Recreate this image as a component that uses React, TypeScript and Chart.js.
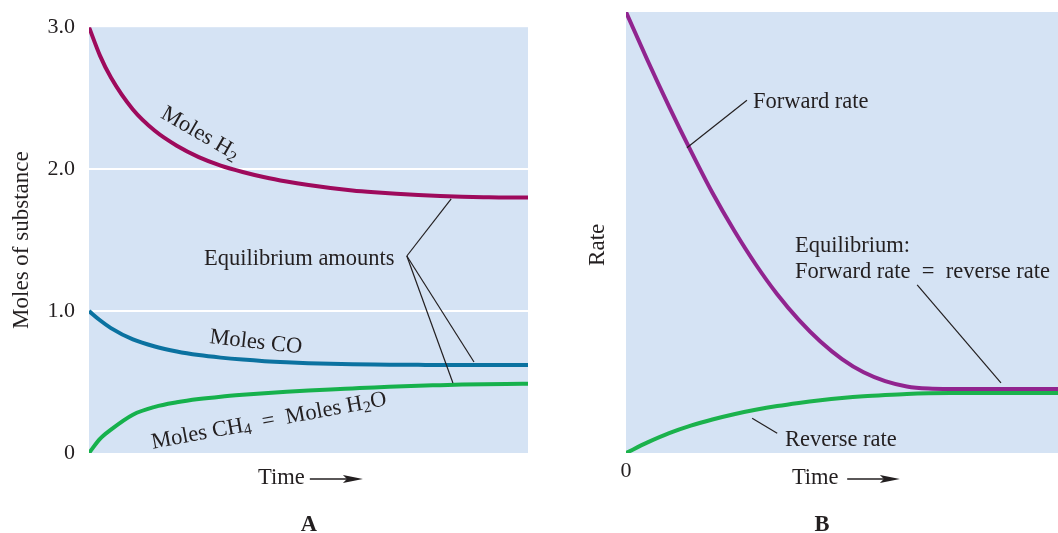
import React, { useEffect, useRef } from 'react';
import { Chart, registerables } from 'chart.js';

Chart.register(...registerables);

const FONT = "'Liberation Serif', 'Times New Roman', Times, serif";
const INK = '#231f20';
const PLOT_BG = '#d5e3f4';

// ---------- Panel A data ----------
const timeA = [0, 2.5, 5, 10, 15, 20, 25, 30, 35, 40, 45, 50, 55, 60, 65, 70, 75, 80, 85, 90, 95, 100];
const molesH2 = [3.0, 2.8, 2.645, 2.42, 2.27, 2.165, 2.085, 2.025, 1.98, 1.943, 1.913, 1.888, 1.867, 1.85, 1.837, 1.826, 1.817, 1.81, 1.805, 1.802, 1.8, 1.8];
const molesCO = [1.0, 0.935, 0.88, 0.8, 0.75, 0.715, 0.69, 0.672, 0.658, 0.647, 0.639, 0.633, 0.628, 0.625, 0.623, 0.622, 0.621, 0.62, 0.62, 0.62, 0.62, 0.62];
const molesCH4 = [0, 0.1, 0.165, 0.27, 0.325, 0.357, 0.38, 0.397, 0.41, 0.421, 0.431, 0.44, 0.448, 0.455, 0.462, 0.468, 0.474, 0.478, 0.482, 0.485, 0.487, 0.488];
const yTicksA = [0, 1, 2, 3];
const yTickLabelsA = ['0', '1.0', '2.0', '3.0'];

// ---------- Panel B data ----------
const timeB = [0, 5, 10, 15, 20, 25, 30, 35, 40, 45, 50, 55, 60, 65, 70, 75, 80, 90, 100];
const forwardRate = [100, 89, 78.5, 68.5, 59, 50.5, 42.8, 36, 30.2, 25.3, 21.3, 18.3, 16.3, 15.1, 14.6, 14.5, 14.5, 14.5, 14.5];
const reverseRate = [0, 2.4, 4.5, 6.2, 7.6, 8.8, 9.8, 10.65, 11.35, 11.95, 12.45, 12.85, 13.15, 13.4, 13.55, 13.6, 13.6, 13.6, 13.6];
const xTicksB = [0];
const xTickLabelsB = ['0'];

type Seg = { t: string; sub?: boolean };
type TextAnn = {
  x: number; y: number; segs: Seg[]; angle?: number;
  align?: 'left' | 'center'; bold?: boolean; baseline?: CanvasTextBaseline; size?: number;
};
type LineAnn = { x1: number; y1: number; x2: number; y2: number };
type ArrowAnn = { x1: number; x2: number; y: number };

// Annotation anchors in data coordinates (time, value)
const textsA: TextAnn[] = [
  { x: 25.3, y: 2.25, segs: [{ t: 'Moles H' }, { t: '2', sub: true }], angle: 30, align: 'center', baseline: 'middle' },
  { x: 38.0, y: 0.78, segs: [{ t: 'Moles CO' }], angle: 6.5, align: 'center', baseline: 'middle' },
  { x: 41.0, y: 0.225, segs: [{ t: 'Moles CH' }, { t: '4', sub: true }, { t: '\u2002=\u2002Moles H' }, { t: '2', sub: true }, { t: 'O' }], angle: -10.5, align: 'center', baseline: 'middle' },
  { x: 26.2, y: 1.325, segs: [{ t: 'Equilibrium amounts' }] },
  { x: 38.5, y: -0.218, segs: [{ t: 'Time' }] },
  { x: 50.1, y: -0.55, segs: [{ t: 'A' }], align: 'center', bold: true },
];
const linesA: LineAnn[] = [
  { x1: 72.4, y1: 1.388, x2: 82.5, y2: 1.79 },
  { x1: 72.4, y1: 1.388, x2: 87.7, y2: 0.641 },
  { x1: 72.4, y1: 1.388, x2: 82.9, y2: 0.493 },
];
const arrowsA: ArrowAnn[] = [{ x1: 50.3, x2: 62.4, y: -0.183 }];

const textsB: TextAnn[] = [
  { x: -6.5, y: 47.2, segs: [{ t: 'Rate' }], angle: -90, align: 'center', baseline: 'middle', size: 23 },
  { x: 29.4, y: 78.2, segs: [{ t: 'Forward rate' }] },
  { x: 39.1, y: 45.6, segs: [{ t: 'Equilibrium:' }] },
  { x: 39.1, y: 39.7, segs: [{ t: 'Forward rate\u2002=\u2002reverse rate' }] },
  { x: 36.8, y: 1.6, segs: [{ t: 'Reverse rate' }] },
  { x: 38.4, y: -7.0, segs: [{ t: 'Time' }] },
  { x: 45.4, y: -17.7, segs: [{ t: 'B' }], align: 'center', bold: true },
];
const linesB: LineAnn[] = [
  { x1: 14.1, y1: 69.2, x2: 28.0, y2: 80.0 },
  { x1: 67.4, y1: 38.1, x2: 86.8, y2: 15.9 },
  { x1: 29.2, y1: 7.9, x2: 35.0, y2: 4.5 },
];
const arrowsB: ArrowAnn[] = [{ x1: 51.2, x2: 63.4, y: -5.9 }];

function drawRich(ctx: CanvasRenderingContext2D, a: TextAnn, px: number, py: number) {
  const size = a.size ?? 22.5;
  const fontOf = (s: Seg) => `${a.bold ? 'bold ' : ''}${s.sub ? size * 0.72 : size}px ${FONT}`;
  const widths = a.segs.map((s) => { ctx.font = fontOf(s); return ctx.measureText(s.t).width; });
  const total = widths.reduce((p, c) => p + c, 0);
  ctx.save();
  ctx.translate(px, py);
  ctx.rotate(((a.angle ?? 0) * Math.PI) / 180);
  ctx.fillStyle = INK;
  ctx.textAlign = 'left';
  ctx.textBaseline = a.baseline ?? 'alphabetic';
  let cx = a.align === 'center' ? -total / 2 : 0;
  a.segs.forEach((s, i) => {
    ctx.font = fontOf(s);
    ctx.fillText(s.t, cx, s.sub ? size * 0.22 : 0);
    cx += widths[i];
  });
  ctx.restore();
}

function makeAnnot(texts: TextAnn[], lines: LineAnn[], arrows: ArrowAnn[]) {
  return {
    id: 'annot',
    beforeDraw(chart: any) {
      const { ctx, chartArea: ca } = chart;
      ctx.save();
      ctx.fillStyle = PLOT_BG;
      ctx.fillRect(ca.left, ca.top, ca.right - ca.left, ca.bottom - ca.top);
      ctx.restore();
    },
    afterDraw(chart: any) {
      const { ctx } = chart;
      const xs = chart.scales.x;
      const ys = chart.scales.y;
      const X = (v: number) => xs.getPixelForValue(v);
      const Y = (v: number) => ys.getPixelForValue(v);
      ctx.save();
      ctx.strokeStyle = INK;
      ctx.lineWidth = 1.2;
      lines.forEach((l) => {
        ctx.beginPath();
        ctx.moveTo(X(l.x1), Y(l.y1));
        ctx.lineTo(X(l.x2), Y(l.y2));
        ctx.stroke();
      });
      arrows.forEach((a) => {
        const x1 = X(a.x1), x2 = X(a.x2), y = Y(a.y);
        ctx.lineWidth = 1.4;
        ctx.beginPath();
        ctx.moveTo(x1, y);
        ctx.lineTo(x2 - 14, y);
        ctx.stroke();
        ctx.fillStyle = INK;
        ctx.beginPath();
        ctx.moveTo(x2, y);
        ctx.lineTo(x2 - 20, y - 4);
        ctx.lineTo(x2 - 16, y);
        ctx.lineTo(x2 - 20, y + 4);
        ctx.closePath();
        ctx.fill();
      });
      ctx.restore();
      texts.forEach((t) => drawRich(ctx, t, X(t.x), Y(t.y)));
    },
  };
}

const lineDs = (label: string, xs: number[], ys: number[], color: string) => ({
  label,
  data: xs.map((x, i) => ({ x, y: ys[i] })),
  borderColor: color,
  backgroundColor: color,
  borderWidth: 4,
  pointRadius: 0,
  cubicInterpolationMode: 'monotone' as const,
  fill: false,
});

function configA(): any {
  return {
    type: 'line',
    data: {
      datasets: [
        lineDs('Moles H2', timeA, molesH2, '#9e0a5c'),
        lineDs('Moles CO', timeA, molesCO, '#0b72a0'),
        lineDs('Moles CH4 = Moles H2O', timeA, molesCH4, '#16b14c'),
      ],
    },
    options: {
      responsive: false,
      animation: false,
      events: [],
      layout: { padding: { top: 27, right: 17, left: 0, bottom: 0 } },
      plugins: { legend: { display: false }, tooltip: { enabled: false } },
      scales: {
        x: {
          type: 'linear', min: 0, max: 100,
          ticks: { display: false },
          grid: { display: false, drawTicks: false },
          border: { display: false },
          afterFit: (s: any) => { s.height = 80; },
        },
        y: {
          type: 'linear', min: 0, max: 3,
          afterBuildTicks: (s: any) => { s.ticks = yTicksA.map((v) => ({ value: v })); },
          ticks: {
            padding: 14,
            color: INK,
            font: { family: FONT, size: 22 },
            callback: (v: number) => yTickLabelsA[yTicksA.indexOf(v)],
          },
          grid: {
            drawTicks: false,
            lineWidth: 2,
            color: (c: any) => (c.tick && (c.tick.value === 1 || c.tick.value === 2) ? '#ffffff' : 'rgba(0,0,0,0)'),
          },
          border: { display: false },
          title: {
            display: true,
            text: 'Moles of substance',
            color: INK,
            font: { family: FONT, size: 23 },
            padding: { top: 8, bottom: 0 },
          },
          afterFit: (s: any) => { s.width = 89; },
        },
      },
    },
    plugins: [makeAnnot(textsA, linesA, arrowsA)],
  };
}

function configB(): any {
  return {
    type: 'line',
    data: {
      datasets: [
        lineDs('Forward rate', timeB, forwardRate, '#91248f'),
        lineDs('Reverse rate', timeB, reverseRate, '#1bb24c'),
      ],
    },
    options: {
      responsive: false,
      animation: false,
      events: [],
      layout: { padding: { top: 12, right: 0, left: 0, bottom: 0 } },
      plugins: { legend: { display: false }, tooltip: { enabled: false } },
      scales: {
        x: {
          type: 'linear', min: 0, max: 100,
          afterBuildTicks: (s: any) => { s.ticks = xTicksB.map((v) => ({ value: v })); },
          ticks: {
            padding: 5,
            color: INK,
            maxRotation: 0,
            font: { family: FONT, size: 22 },
            callback: (v: number) => xTickLabelsB[xTicksB.indexOf(v)],
          },
          grid: { display: false, drawTicks: false },
          border: { display: false },
          afterFit: (s: any) => { s.height = 80; },
        },
        y: {
          type: 'linear', min: 0, max: 100,
          ticks: { display: false },
          grid: { display: false, drawTicks: false },
          border: { display: false },
          afterFit: (s: any) => { s.width = 81; },
        },
      },
    },
    plugins: [makeAnnot(textsB, linesB, arrowsB)],
  };
}

export default function App() {
  const refA = useRef<HTMLCanvasElement>(null);
  const refB = useRef<HTMLCanvasElement>(null);
  useEffect(() => {
    const a = new Chart(refA.current as HTMLCanvasElement, configA());
    const b = new Chart(refB.current as HTMLCanvasElement, configB());
    return () => {
      a.destroy();
      b.destroy();
    };
  }, []);
  return (
    <div style={{ position: 'fixed', left: 0, top: 0, width: 1058, height: 533, background: '#ffffff' }}>
      <canvas ref={refA} width={545} height={533} style={{ position: 'absolute', left: 0, top: 0, width: 545, height: 533 }} />
      <canvas ref={refB} width={513} height={533} style={{ position: 'absolute', left: 545, top: 0, width: 513, height: 533 }} />
    </div>
  );
}
